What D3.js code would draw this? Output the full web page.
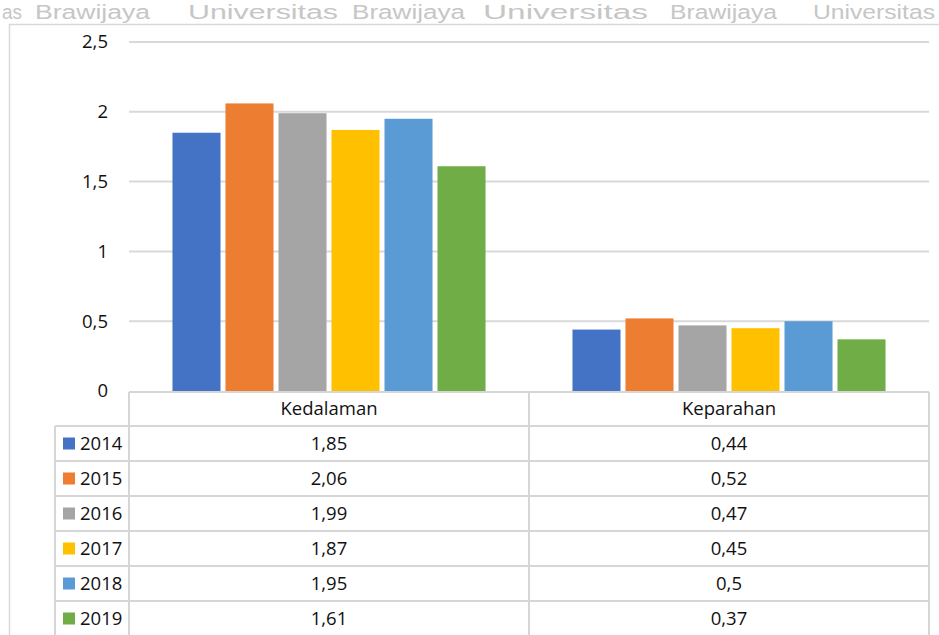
<!DOCTYPE html>
<html>
<head>
<meta charset="utf-8">
<script src="https://cdn.jsdelivr.net/npm/d3@7"></script>
<style>
  body { margin: 0; background: #fff; }
  svg { display: block; font-family: "Open Sans", sans-serif; }
</style>
</head>
<body>
<div id="chart"></div>
<script>
var width  = 939,
    height = 635;

// data
var categories = ["Kedalaman", "Keparahan"];
var years      = ["2014", "2015", "2016", "2017", "2018", "2019"];
var kedalaman  = [1.85, 2.06, 1.99, 1.87, 1.95, 1.61];
var keparahan  = [0.44, 0.52, 0.47, 0.45, 0.5, 0.37];
var colors     = ["#4472c4", "#ed7d31", "#a5a5a5", "#ffc000", "#5b9bd5", "#70ad47"];
var yTicks     = [0, 0.5, 1, 1.5, 2, 2.5];
var watermark  = ["as", "Brawijaya", "Universitas", "Brawijaya", "Universitas", "Brawijaya", "Universitas"];

var series = years.map(function(y, i) {
    return { year: y, color: colors[i], values: [kedalaman[i], keparahan[i]] };
});

var fmt = function(v) { return String(v).replace(".", ","); };

var plotLeft = 129, plotRight = 929, plotTop = 42, plotBottom = 391;
var tableLeft = 55, tableTop = 392, headerH = 34, rowH = 35;
var fontSize = "18.5px";

var svg = d3.select("#chart").append("svg")
    .attr("width", width)
    .attr("height", height);

// scales
var x0 = d3.scaleBand()
    .domain(categories)
    .range([plotLeft, plotRight]);

var x1 = d3.scaleBand()
    .domain(years)
    .range([0, x0.bandwidth()])
    .paddingInner(0.094)
    .paddingOuter(0.82);

var y = d3.scaleLinear()
    .domain([0, 2.5])
    .range([plotBottom, plotTop]);

var rowY = d3.scaleBand()
    .domain(years)
    .range([tableTop + headerH, tableTop + headerH + rowH * years.length]);

// scanned-page watermark across the top
var wmX   = [2, 35, 188, 352, 483, 670, 813];
var wmLen = [20, 115, 150, 113, 165, 107, 122];
svg.append("g").selectAll("text")
    .data(watermark)
    .enter().append("text")
    .attr("x", function(d, i) { return wmX[i]; })
    .attr("y", 19)
    .attr("textLength", function(d, i) { return wmLen[i]; })
    .attr("lengthAdjust", "spacingAndGlyphs")
    .style("font-family", "Liberation Sans, Arial, sans-serif")
    .style("font-size", "20px")
    .style("fill", "#c6c6c6")
    .text(function(d) { return d; });

// chart border
svg.append("path")
    .attr("d", "M9.5," + height + "V24.5H" + width)
    .attr("fill", "none")
    .attr("stroke", "#d9d9d9")
    .attr("stroke-width", 1.5);

// gridlines
svg.append("g").selectAll("line")
    .data(yTicks.filter(function(d) { return d > 0; }))
    .enter().append("line")
    .attr("x1", plotLeft)
    .attr("x2", plotRight)
    .attr("y1", function(d) { return y(d); })
    .attr("y2", function(d) { return y(d); })
    .attr("stroke", "#d9d9d9")
    .attr("stroke-width", 2);

// y axis
var yAxis = d3.axisLeft(y)
    .tickValues(yTicks)
    .tickSize(0)
    .tickPadding(0)
    .tickFormat(fmt);

var gY = svg.append("g")
    .attr("transform", "translate(108,0)")
    .call(yAxis);
gY.select(".domain").remove();
gY.selectAll("text")
    .style("font-family", "Open Sans, sans-serif")
    .style("font-size", fontSize)
    .style("fill", "#111");

// bars
var gBars = svg.append("g").selectAll("g")
    .data(series)
    .enter().append("g")
    .attr("fill", function(d) { return d.color; });

gBars.selectAll("rect")
    .data(function(d) {
        return d.values.map(function(v, i) { return { cat: categories[i], year: d.year, value: v }; });
    })
    .enter().append("rect")
    .attr("x", function(d) { return x0(d.cat) + x1(d.year); })
    .attr("y", function(d) { return y(d.value); })
    .attr("width", x1.bandwidth())
    .attr("height", function(d) { return y(0) - y(d.value); });

// data table
var table = svg.append("g")
    .attr("stroke", "#d6d6d6")
    .attr("stroke-width", 2)
    .attr("fill", "none");

var tableBottom = rowY.range()[1];

// horizontal lines
table.append("line")
    .attr("x1", plotLeft).attr("x2", plotRight)
    .attr("y1", tableTop).attr("y2", tableTop);
table.selectAll(".hrow")
    .data(years)
    .enter().append("line")
    .attr("class", "hrow")
    .attr("x1", tableLeft).attr("x2", plotRight)
    .attr("y1", function(d) { return rowY(d); })
    .attr("y2", function(d) { return rowY(d); });

// vertical lines
table.append("line")
    .attr("x1", tableLeft).attr("x2", tableLeft)
    .attr("y1", rowY(years[0])).attr("y2", tableBottom);
table.selectAll(".vcol")
    .data(x0.domain().map(function(c) { return x0(c); }).concat([plotRight]))
    .enter().append("line")
    .attr("class", "vcol")
    .attr("x1", function(d) { return d; })
    .attr("x2", function(d) { return d; })
    .attr("y1", tableTop)
    .attr("y2", tableBottom);

var textStyle = function(sel) {
    sel.style("font-family", "Open Sans, sans-serif")
       .style("font-size", fontSize)
       .style("fill", "#111");
};

// header labels
svg.append("g").selectAll("text")
    .data(categories)
    .enter().append("text")
    .attr("x", function(d) { return x0(d) + x0.bandwidth() / 2; })
    .attr("y", tableTop + headerH / 2)
    .attr("dy", "0.35em")
    .attr("text-anchor", "middle")
    .call(textStyle)
    .text(function(d) { return d; });

// legend keys + years
var rows = svg.append("g").selectAll("g")
    .data(series)
    .enter().append("g")
    .attr("transform", function(d) { return "translate(0," + (rowY(d.year) + rowY.bandwidth() / 2) + ")"; });

rows.append("rect")
    .attr("x", 63)
    .attr("y", -6)
    .attr("width", 12)
    .attr("height", 12)
    .attr("fill", function(d) { return d.color; });

rows.append("text")
    .attr("x", 80)
    .attr("dy", "0.35em")
    .call(textStyle)
    .text(function(d) { return d.year; });

rows.selectAll(".val")
    .data(function(d) { return d.values; })
    .enter().append("text")
    .attr("class", "val")
    .attr("x", function(d, i) { return x0(categories[i]) + x0.bandwidth() / 2; })
    .attr("dy", "0.35em")
    .attr("text-anchor", "middle")
    .call(textStyle)
    .text(fmt);
</script>
</body>
</html>
